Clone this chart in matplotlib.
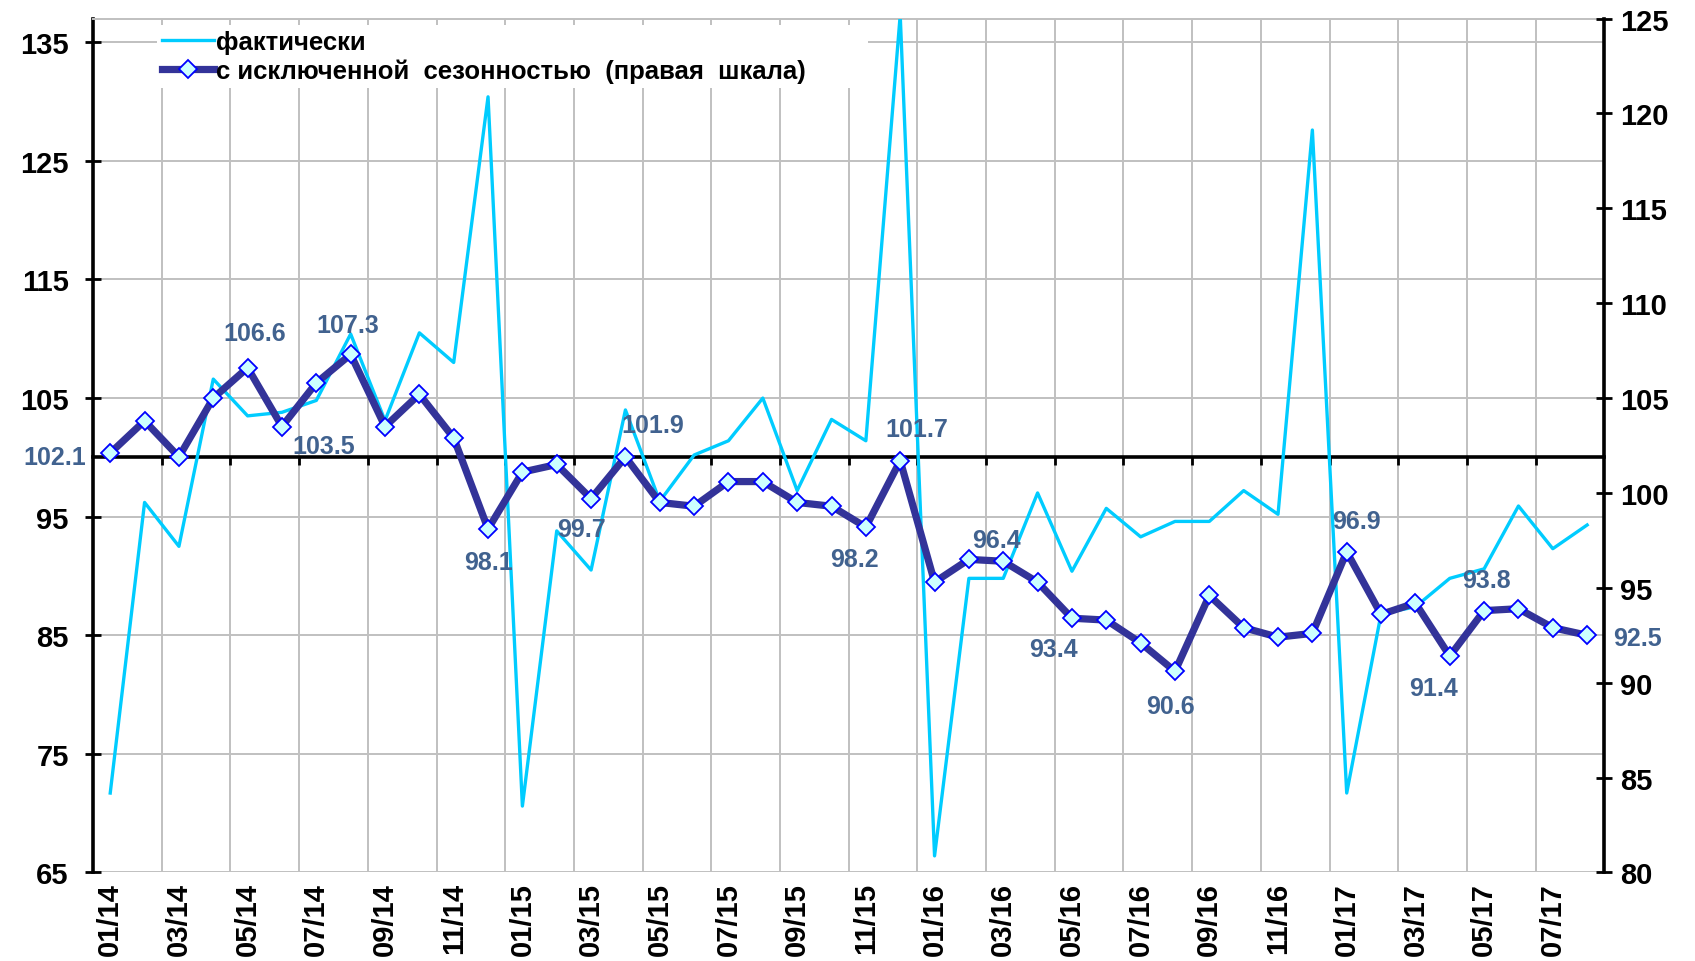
import numpy as np
import matplotlib
matplotlib.use("Agg")
from matplotlib import pyplot as plt

plt.rcParams['font.family'] = ['Liberation Sans', 'DejaVu Sans']
plt.rcParams['font.weight'] = 'bold'

# 01/14 .. 08/17
months = [f"{m:02d}/{y}" for y in range(14, 18) for m in range(1, 13)][:44]

# actual values (left scale)
actual = [71.7, 96.2, 92.5, 106.6, 103.5, 103.8, 104.8, 110.4, 103.1, 110.5, 108.0, 130.4,
          70.6, 93.8, 90.5, 104.0, 96.3, 100.2, 101.4, 105.0, 97.2, 103.2, 101.4, 137.3,
          66.4, 89.8, 89.8, 97.0, 90.4, 95.7, 93.3, 94.6, 94.6, 97.2, 95.2, 127.6,
          71.7, 86.8, 87.4, 89.8, 90.6, 95.9, 92.3, 94.3]

# seasonally adjusted (right scale)
sa = [102.1, 103.8, 101.9, 105.0, 106.6, 103.5, 105.8, 107.3, 103.5, 105.2, 102.9, 98.1,
      101.1, 101.5, 99.7, 101.9, 99.5, 99.3, 100.6, 100.6, 99.5, 99.3, 98.2, 101.7,
      95.3, 96.5, 96.4, 95.3, 93.4, 93.3, 92.1, 90.6, 94.6, 92.9, 92.4, 92.6,
      96.9, 93.6, 94.2, 91.4, 93.8, 93.9, 92.9, 92.5]

labelled = [0, 4, 5, 7, 11, 14, 15, 22, 23, 26, 28, 31, 36, 39, 40, 43]
# label offsets in points (dx, dy)
label_off = [(-40, -3), (5, 25), (30, -14), (-2, 21), (0, -24), (-7, -22), (20, 23),
             (-8, -23), (12, 23), (-5, 15), (-13, -22), (-3, -25), (7, 22), (-12, -23),
             (2, 22), (36, -2)]

grid_c = '#C0C0C0'
x = np.arange(len(months))

fig = plt.figure(figsize=(16.95, 9.62), dpi=100)
ax = fig.add_axes([0.0549, 0.092, 0.8916, 0.8877])
ax2 = ax.twinx()

l1, = ax.plot(x, actual, color='#00CCFF', lw=2.4, label='фактически', zorder=3)
l2, = ax2.plot(x, sa, color='#333399', lw=5.2, marker='D', ms=9,
               mfc='#CCFFFF', mec='#0000FF', mew=1.3,
               label='с исключенной  сезонностью  (правая  шкала)', zorder=4)

ax.set_xlim(-0.5, len(months) - 0.5)
ax.set_ylim(65, 137)
ax2.set_ylim(80, 125)
ax.set_yticks(np.arange(65, 136, 10))
ax2.set_yticks(np.arange(80, 126, 5))

ax.set_xticks(x[::2])
ax.set_xticklabels(months[::2])
ax.set_xticks(np.arange(1.5, len(months) - 1, 2), minor=True)

ax.grid(axis='y', which='major', color=grid_c, lw=1.4)
ax.grid(axis='x', which='minor', color=grid_c, lw=1.4)
ax.set_axisbelow(True)

# x axis crosses at 100
ax.spines['bottom'].set_position(('data', 100))
ax.spines['bottom'].set_color('black')
ax.spines['bottom'].set_linewidth(2.6)
ax.spines['bottom'].set_zorder(2.5)
ax.spines['left'].set_linewidth(2.6)
ax.spines['right'].set_visible(False)
ax.spines['top'].set_color(grid_c)
ax.spines['top'].set_linewidth(1.4)
for s in ['bottom', 'left', 'top']:
    ax2.spines[s].set_visible(False)
ax2.spines['right'].set_linewidth(2.6)

h_in = 0.8877 * 9.62
pad = (100 - 65) / (137 - 65) * h_in * 72 + 7
ax.tick_params(axis='x', which='major', length=0, pad=pad, labelsize=21, labelrotation=90)
ax.tick_params(axis='x', which='minor', direction='out', length=6, width=2, color='black')
ax.tick_params(axis='y', direction='inout', length=11, width=2, labelsize=21, pad=12)
ax2.tick_params(axis='y', direction='inout', length=11, width=2, labelsize=21, pad=6)

for i, (dx, dy) in zip(labelled, label_off):
    ax2.annotate(f"{sa[i]:.1f}", (x[i], sa[i]), xytext=(dx, dy), textcoords='offset points',
                 ha='center', va='center', fontsize=18, color='#41628F', zorder=6)

leg = ax2.legend([l1, l2], [l1.get_label(), l2.get_label() + '        '], loc='upper left',
                 bbox_to_anchor=(0.034, 1.008), fontsize=18.5, frameon=True, fancybox=False,
                 edgecolor='none', facecolor='white', framealpha=1, borderpad=0.2,
                 labelspacing=0.2, handlelength=2.0, handletextpad=0.1)
leg.set_zorder(10)

fig.savefig('out.png', dpi=100)
